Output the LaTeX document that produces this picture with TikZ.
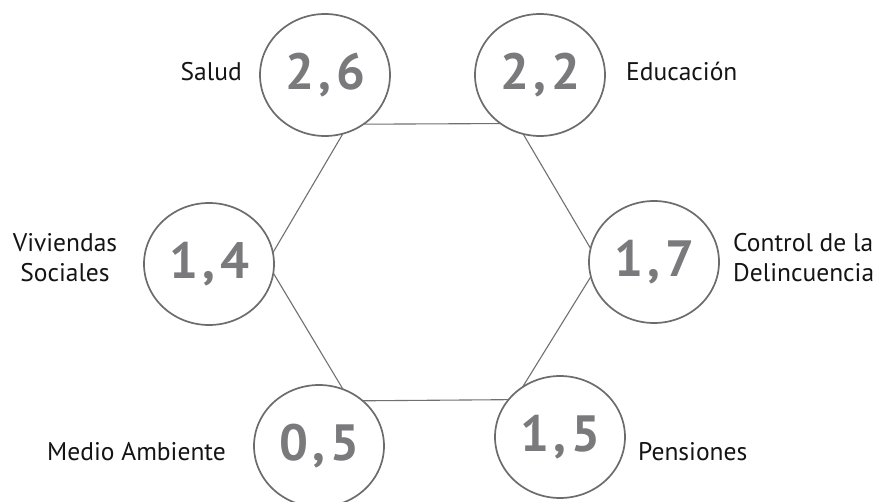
\documentclass[tikz,border=0pt]{standalone}
\usepackage{fontspec}
\setmainfont{PT Sans}
\newfontfamily\numfont[LetterSpace=9]{PT Sans}
\usetikzlibrary{shapes.geometric}
\definecolor{ringgray}{RGB}{108,108,110}
\definecolor{numgray}{RGB}{122,122,125}
\definecolor{linegray}{RGB}{112,112,112}
\begin{document}
\begin{tikzpicture}[x=1pt,y=-1pt,
    ring/.style={ellipse,draw=ringgray,line width=1.7pt,fill=white,minimum width=130pt,minimum height=122pt,inner sep=0pt,outer sep=0pt,text=numgray,font=\numfont\fontsize{51}{51}\selectfont\bfseries},
    tag/.style={font=\fontsize{25.5}{30}\selectfont,text=black!92,inner sep=0pt},
    edge/.style={draw=linegray,line width=1.1pt}]
  \useasboundingbox (0,0) rectangle (885,502);
  % circles
  \node[ring] (salud) at (325,75) {2,6};
  \node[ring] (edu) at (540,75) {2,2};
  \node[ring] (viv) at (209,264) {1,4};
  \node[ring] (ctrl) at (654,262) {1,7};
  \node[ring] (medio) at (319,446) {0,5};
  \node[ring] (pens) at (560,437) {1,5};
  % labels
  \node[tag,anchor=base east] (lsalud) at (242,81) {Salud};
  \node[tag,anchor=base west] (ledu) at (626,81) {Educación};
  \node[tag,align=center] (lviv) at (65,258) {Viviendas\\Sociales};
  \node[tag,align=left,anchor=west] (lctrl) at (733,258) {Control de la\\Delincuencia};
  \node[tag,anchor=base east] (lmedio) at (226,460) {Medio Ambiente};
  \node[tag,anchor=base west] (lpens) at (638,460) {Pensiones};
  % hexagon
  \draw[edge] (salud.-52) -- (edu.-129);
  \draw[edge] (salud.-73) -- (viv.10);
  \draw[edge] (edu.-106) -- (ctrl.168);
  \draw[edge] (viv.-8) -- (medio.67);
  \draw[edge] (ctrl.193) -- (pens.127);
  \draw[edge] (medio.46) -- (pens.144);
\end{tikzpicture}
\end{document}
